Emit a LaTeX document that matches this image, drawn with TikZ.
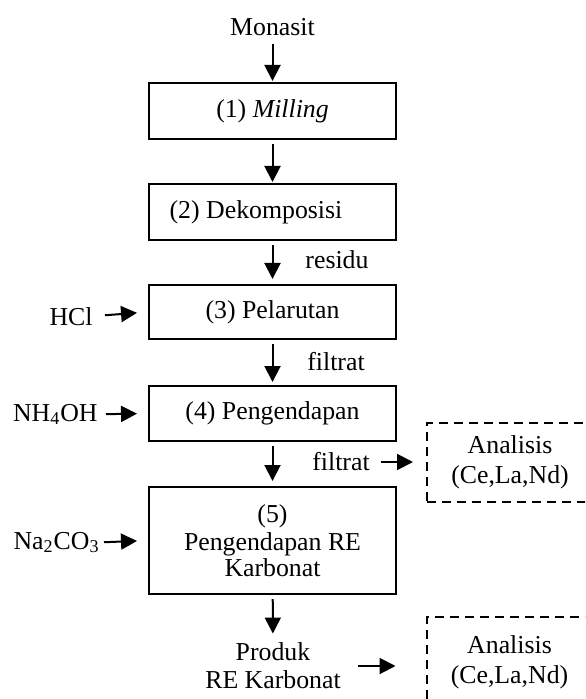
\documentclass[tikz,border=0pt]{standalone}
\usepackage{fontspec}
\setmainfont{Liberation Serif}
\usetikzlibrary{arrows.meta,positioning}
\tikzset{
  procbox/.style={draw,line width=1pt,minimum width=123.5pt,inner sep=0pt,align=center},
  probebox/.style={draw,dash pattern=on 4.5pt off 3pt,line width=1pt,minimum width=83pt,inner sep=0pt,align=center,
    font=\fontsize{12.9}{15}\selectfont},
  sidelabel/.style={inner sep=0pt,align=center},
  flowarrow/.style={-{Triangle[length=8pt,width=8pt]},line width=1pt,shorten <=2pt,shorten >=1.5pt}
}

\begin{document}
\begin{tikzpicture}[x=0.5pt,y=-0.5pt,font=\fontsize{12.9}{14}\selectfont]
  \useasboundingbox (0,0) rectangle (585,699);
  \clip (0,0) rectangle (585,699);
  \node[sidelabel] (monasit) at (272.5,27) {Monasit};
  \node[procbox,minimum height=28pt] (milling) at (272.5,111) {(1) \textit{Milling}};
  \node[procbox,minimum height=28pt] (dekomp) at (272.5,212) {(2) Dekomposisi\hspace*{16.5pt}};
  \node[procbox,minimum height=27pt] (larut) at (272.5,312) {(3) Pelarutan};
  \node[procbox,minimum height=27.5pt] (endap) at (272.5,413.5) {(4) Pengendapan};
  \node[procbox,minimum height=53.5pt,font=\fontsize{12.9}{12.8}\selectfont] (karbonat) at (272.5,540.5) {(5)\\[1.2pt]Pengendapan RE\\Karbonat};
  \node[sidelabel] (produk) at (273,666) {Produk\\RE Karbonat};
  \node[sidelabel,anchor=base east] (hcl) at (93,325) {HCl};
  \node[sidelabel,anchor=base east] (nh4oh) at (98,421) {NH\textsubscript{4}OH};
  \node[sidelabel,anchor=base east] (na2co3) at (100,549) {Na\textsubscript{2}CO\textsubscript{3}};
  \node[sidelabel] (residu) at (337,260) {residu};
  \node[sidelabel] (filtrat1) at (336,362) {filtrat};
  \node[sidelabel] (filtrat2) at (341,462) {filtrat};
  \node[probebox,minimum height=39.5pt] (analisis1) at (510,462.5) {Analisis\\(Ce,La,Nd)};
  \node[probebox,minimum height=45pt] (analisis2) at (509.5,662) {Analisis\\(Ce,La,Nd)};
  \draw[flowarrow,shorten <=3.75pt,shorten >=0.5pt] (monasit) -- (milling);
  \draw[flowarrow,shorten >=0.5pt] (milling) -- (dekomp);
  \draw[flowarrow,shorten >=2.5pt] (dekomp.south -| milling) -- (larut);
  \draw[flowarrow] (larut) -- (endap);
  \draw[flowarrow,shorten >=2.5pt] (endap) -- (karbonat);
  \draw[flowarrow,shorten >=4.5pt] (karbonat) -- (produk);
  \draw[flowarrow,shorten <=6pt,shorten >=5.5pt] (hcl.east) -- (larut.west);
  \draw[flowarrow,shorten <=4pt,shorten >=5.5pt] (nh4oh.east) -- (endap.west);
  \draw[flowarrow,shorten <=2pt,shorten >=5.5pt] (na2co3.east) -- (karbonat.west);
  \draw[flowarrow,shorten <=5.5pt,shorten >=6.5pt] (filtrat2.east) -- (filtrat2.east -| analisis1.west);
  \draw[flowarrow,shorten <=8.5pt,shorten >=15pt] (produk.east) -- (produk.east -| analisis2.west);
\end{tikzpicture}
\end{document}
